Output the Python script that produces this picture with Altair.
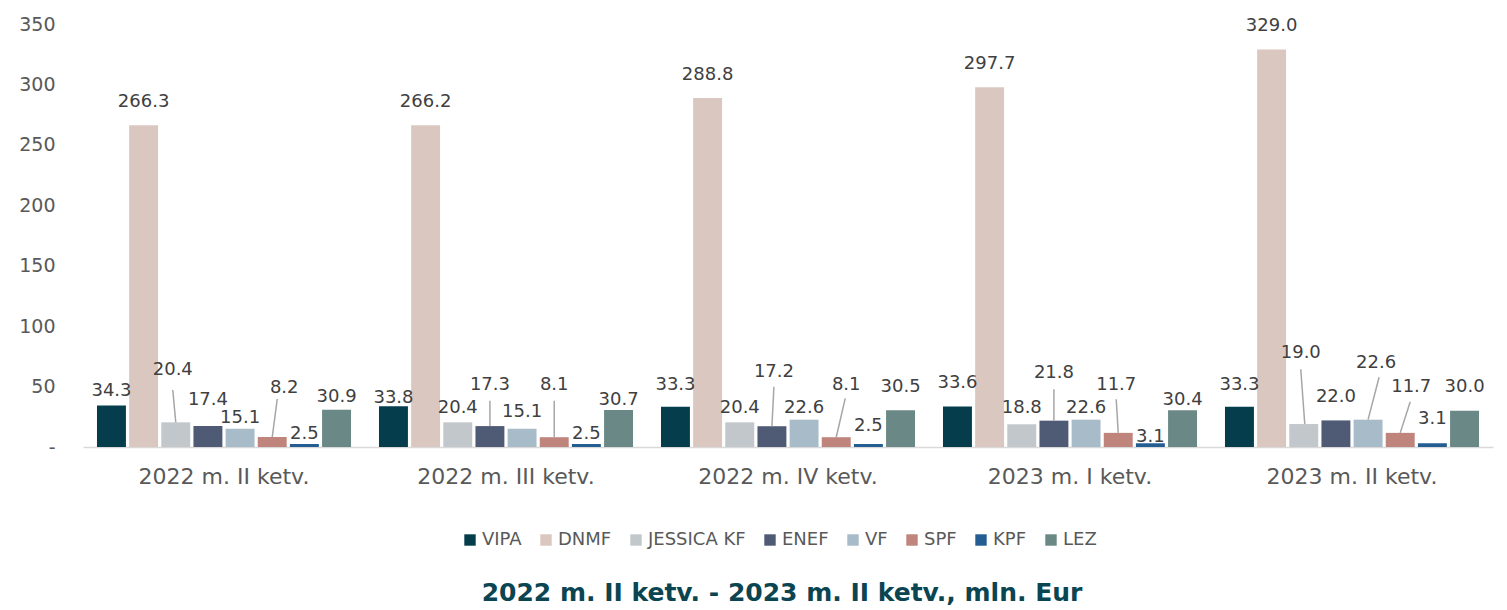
import altair as alt
import pandas as pd

# ---------------- data ----------------
QUARTERS = ["2022 m. II ketv.", "2022 m. III ketv.", "2022 m. IV ketv.",
            "2023 m. I ketv.", "2023 m. II ketv."]
SERIES = ["VIPA", "DNMF", "JESSICA KF", "ENEF", "VF", "SPF", "KPF", "LEZ"]

VIPA = [34.3, 33.8, 33.3, 33.6, 33.3]
DNMF = [266.3, 266.2, 288.8, 297.7, 329.0]
JESSICA_KF = [20.4, 20.4, 20.4, 18.8, 19.0]
ENEF = [17.4, 17.3, 17.2, 21.8, 22.0]
VF = [15.1, 15.1, 22.6, 22.6, 22.6]
SPF = [8.2, 8.1, 8.1, 11.7, 11.7]
KPF = [2.5, 2.5, 2.5, 3.1, 3.1]
LEZ = [30.9, 30.7, 30.5, 30.4, 30.0]
VALUES = [VIPA, DNMF, JESSICA_KF, ENEF, VF, SPF, KPF, LEZ]

TITLE = "2022 m. II ketv. - 2023 m. II ketv., mln. Eur"

# ---------------- styling / label layout ----------------
COLORS = ["#053d4c", "#dac7bf", "#c1c7ca", "#4f5a74", "#a7bcc8", "#bf847b", "#245d92", "#6a8885"]
FONT = "DejaVu Sans"
TEXT_GREY = "#595959"
LABEL_GREY = "#404040"

# label centre height (value units) per series, per quarter
LABEL_Y = {
    "VIPA":       [46.3, 40.3, 51.3, 52.7, 51.3],
    "DNMF":       [285.3, 285.2, 307.8, 316.5, 348.0],
    "JESSICA KF": [63.7, 32.3, 32.0, 32.0, 77.5],
    "ENEF":       [38.9, 51.3, 62.3, 61.0, 41.6],
    "VF":         [24.0, 29.2, 32.0, 32.0, 69.3],
    "SPF":        [48.8, 51.3, 51.3, 51.3, 49.9],
    "KPF":        [10.8, 10.8, 17.4, 8.3, 22.8],
    "LEZ":        [41.4, 38.9, 49.9, 38.9, 49.9],
}
# horizontal label shift in pixels (quarter index, series) -> px
LABEL_DX = {(0, "JESSICA KF"): -3, (0, "SPF"): 12, (2, "ENEF"): 2, (2, "SPF"): 10,
            (3, "SPF"): -2, (4, "JESSICA KF"): -3, (4, "VF"): 8, (4, "SPF"): 11}
# leader lines: (quarter index, series, top of line in value units, top dx px, bottom dx px)
LEADERS = [
    (0, "JESSICA KF", 47.2, -3, 0), (0, "SPF", 39.7, 5, 0),
    (1, "ENEF", 38.3, 0, 0), (1, "SPF", 38.3, 0, 0),
    (2, "ENEF", 49.9, 2, 0), (2, "SPF", 40.3, 9, 0),
    (3, "ENEF", 47.7, 0, 0), (3, "SPF", 39.5, -2, 0),
    (4, "JESSICA KF", 64.3, -3, 1), (4, "VF", 57.7, 11, 0), (4, "SPF", 37.5, 10, 0),
]

PLOT_W, PLOT_H = 1410, 423
OFF_PAD_INNER, OFF_PAD_OUTER = 0.1, 0.435
N = len(SERIES)
SLOT_PX = PLOT_W / len(QUARTERS) / (N - OFF_PAD_INNER + 2 * OFF_PAD_OUTER)
OFF_DOMAIN = [-(OFF_PAD_OUTER + (1 - OFF_PAD_INNER) / 2),
              N - 1 + OFF_PAD_OUTER + (1 - OFF_PAD_INNER) / 2]

# ---------------- tables ----------------
bar_rows, text_rows, line_rows = [], [], []
for si, s in enumerate(SERIES):
    for qi, q in enumerate(QUARTERS):
        v = VALUES[si][qi]
        bar_rows.append({"quarter": q, "series": s, "value": v})
        text_rows.append({"quarter": q, "series": s, "label": f"{v:.1f}",
                          "ly": LABEL_Y[s][qi],
                          "slot": si + LABEL_DX.get((qi, s), 0) / SLOT_PX})
for li, (qi, s, top, dtop, dbot) in enumerate(LEADERS):
    si = SERIES.index(s)
    v = VALUES[si][qi]
    line_rows.append({"id": li, "quarter": QUARTERS[qi], "y": v, "slot": si + dbot / SLOT_PX, "o": 0})
    line_rows.append({"id": li, "quarter": QUARTERS[qi], "y": top, "slot": si + dtop / SLOT_PX, "o": 1})

bars_df = pd.DataFrame(bar_rows)
text_df = pd.DataFrame(text_rows)
line_df = pd.DataFrame(line_rows)

x_enc = alt.X("quarter:N", sort=QUARTERS, title=None,
              scale=alt.Scale(paddingInner=0, paddingOuter=0),
              axis=alt.Axis(labelFont=FONT, labelFontSize=22, labelColor=TEXT_GREY,
                            labelPadding=19, ticks=False, domainColor="#d9d9d9",
                            domainWidth=1.5, grid=False, labelAngle=0))
y_scale = alt.Scale(domain=[0, 350], nice=False)

bars = alt.Chart(bars_df).mark_bar().encode(
    x=x_enc,
    xOffset=alt.XOffset("series:N", sort=SERIES,
                        scale=alt.Scale(paddingInner=OFF_PAD_INNER, paddingOuter=OFF_PAD_OUTER)),
    y=alt.Y("value:Q", scale=y_scale, title=None,
            axis=alt.Axis(values=[0, 50, 100, 150, 200, 250, 300, 350],
                          labelExpr="datum.value == 0 ? '-' : datum.label",
                          labelFont=FONT, labelFontSize=19, labelColor=TEXT_GREY,
                          labelPadding=28, domain=False, ticks=False, grid=False)),
    color=alt.Color("series:N", sort=SERIES,
                    scale=alt.Scale(domain=SERIES, range=COLORS),
                    legend=alt.Legend(orient="none", direction="horizontal", title=None,
                                      legendX=378, legendY=507, padding=0,
                                      symbolType="square", symbolSize=130, symbolStrokeWidth=0,
                                      labelFont=FONT, labelFontSize=18, labelColor=TEXT_GREY,
                                      columnPadding=15, labelOffset=3)),
)

off_q = alt.XOffset("slot:Q", scale=alt.Scale(domain=OFF_DOMAIN, nice=False, zero=False))

leaders = alt.Chart(line_df).mark_line(color="#a6a6a6", strokeWidth=1.5).encode(
    x=alt.X("quarter:N", sort=QUARTERS),
    xOffset=off_q,
    y=alt.Y("y:Q", scale=y_scale),
    detail="id:N",
    order="o:Q",
)

labels = alt.Chart(text_df).mark_text(font=FONT, fontSize=18, color=LABEL_GREY,
                                      baseline="middle", align="center").encode(
    x=alt.X("quarter:N", sort=QUARTERS),
    xOffset=off_q,
    y=alt.Y("ly:Q", scale=y_scale),
    text="label:N",
)

chart = alt.layer(bars, leaders, labels).resolve_scale(xOffset="independent").properties(
    width=PLOT_W, height=PLOT_H,
    autosize=alt.AutoSizeParams(type="none"),
    padding={"left": 75, "top": 16, "right": 6, "bottom": 162},
    view=alt.ViewBackground(stroke="transparent", strokeWidth=0),
    title=alt.TitleParams(TITLE, orient="bottom", anchor="middle", offset=32, dx=-6,
                          font=FONT, fontSize=25, fontWeight="bold", color="#0b4552"),
).configure_view(stroke="transparent", strokeWidth=0).configure(background="white")

chart.save("out.html", embed_options={"renderer": "svg", "actions": False})
